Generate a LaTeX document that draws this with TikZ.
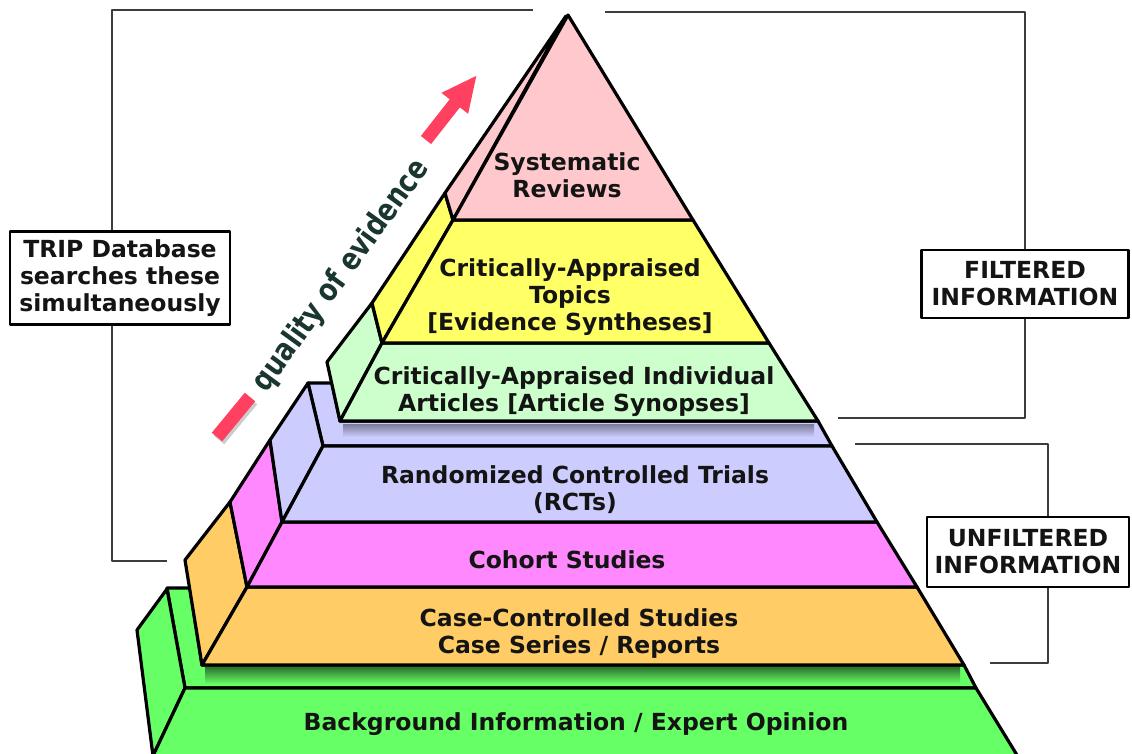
\documentclass[tikz,border=0pt]{standalone}
\usepackage{fontspec}
\setmainfont{DejaVu Sans}
\usetikzlibrary{arrows.meta, positioning}

\definecolor{pinkface}{RGB}{255,200,204}
\definecolor{yellowface}{RGB}{255,255,102}
\definecolor{mintface}{RGB}{204,255,204}
\definecolor{lilacface}{RGB}{204,204,255}
\definecolor{magentaface}{RGB}{255,136,255}
\definecolor{orangeface}{RGB}{255,204,102}
\definecolor{greenface}{RGB}{102,255,102}
\definecolor{arrowred}{RGB}{255,64,96}
\definecolor{evidgreen}{RGB}{25,55,48}
\definecolor{linegrey}{RGB}{60,60,60}
\definecolor{inkgrey}{RGB}{20,20,20}

\begin{document}
\begin{tikzpicture}[x = 1pt, y = -1pt, % pixel grid, y runs down
                line join = round,
                face/.style = {draw = black, line width = 3.2pt, fill = #1} % one face of a layer
            ]

            \tikzstyle{lbl}=[font = \fontsize{23.5}{27}\selectfont\bfseries,
            text = inkgrey, align = center, inner sep = 0pt]
            \tikzstyle{infobox}=[lbl, draw = black, line width = 2.6pt, fill = white]
            \tikzstyle{bracket}=[draw = linegrey, line width = 1.6pt]

            \useasboundingbox (0,0) rectangle (1132,753);
            \clip (0,0) rectangle (1132,753);

            % background layer
            \path[face=greenface] (167,588) -- (190,588) -- (202,665) -- (964,665)
                -- (976,688) -- (185,688) -- cycle;
            \shade[top color=greenface!45!black, bottom color=greenface]
                (205,667) rectangle (960,684);
            \path[face=greenface] (137,630) -- (167,589) -- (185,688) -- (153,756) -- cycle;
            \path[face=greenface] (185,688) -- (976,688) -- (1020,760) -- (151,760) -- cycle;

            % unfiltered stack
            \path[face=orangeface] (185,560) -- (230,502) -- (247,587) -- (202,665) -- cycle;
            \path[face=orangeface] (202,665) -- (247,587) -- (917,587) -- (964,665) -- cycle;
            \path[face=magentaface] (230,502) -- (270,440) -- (282,522) -- (247,587) -- cycle;
            \path[face=magentaface] (247,587) -- (282,522) -- (877,522) -- (917,587) -- cycle;
            \path[face=lilacface] (308,383) -- (332,383) -- (340,421) -- (818,421)
                -- (832,446) -- (323,446) -- cycle;
            \shade[top color=lilacface!60!black, bottom color=lilacface]
                (343,424) rectangle (814,437);
            \path[face=lilacface] (270,440) -- (308,383) -- (323,446) -- (282,522) -- cycle;
            \path[face=lilacface] (282,522) -- (323,446) -- (832,446) -- (877,522) -- cycle;

            % filtered stack
            \path[face=mintface] (327,362) -- (372,303) -- (382,343) -- (340,421) -- cycle;
            \path[face=mintface] (340,421) -- (382,343) -- (769,343) -- (818,421) -- cycle;
            \path[face=yellowface] (372,303) -- (445,193) -- (453,220) -- (382,343) -- cycle;
            \path[face=yellowface] (382,343) -- (453,220) -- (693,220) -- (769,343) -- cycle;
            \path[face=pinkface] (445,193) -- (566,16) -- (453,220) -- cycle;
            \path[face=pinkface] (453,220) -- (568,15) -- (693,220) -- cycle;

            \node[lbl] (sr) at (567,175) {Systematic\\Reviews};
            \node[lbl] (cat) at (570,297) {Critically-Appraised\\Topics\\{[}Evidence Syntheses{]}};
            \node[lbl] (caia) at (574,392) {Critically-Appraised Individual\\Articles {[}Article Synopses{]}};
            \node[lbl] (rct) at (575,490) {Randomized Controlled Trials\\(RCTs)};
            \node[lbl] (coh) at (567,560) {Cohort Studies};
            \node[lbl] (case) at (579,634) {Case-Controlled Studies\\Case Series / Reports};
            \node[lbl] (bg) at (576,724) {Background Information / Expert Opinion};

            % quality arrow
            \coordinate (bartail) at (217,437); \coordinate (barhead) at (250,397);
            \coordinate (arrtail) at (426,140); \coordinate (arrtip) at (477,75);
            \draw[line width=13.5pt, black, opacity=.2, transform canvas={shift={(2pt,-3pt)}}]
                (bartail) -- (barhead);
            \draw[line width=13.5pt, arrowred] (bartail) -- (barhead);
            \draw[line width=13pt, arrowred, -{Triangle[length=36pt, width=31pt]}]
                (arrtail) -- (arrtip);
            \node[font=\fontsize{31}{31}\selectfont\bfseries, text=evidgreen, rotate=54, inner sep=0pt]
                (qoe) at (341,276) {\scalebox{0.83}[1]{quality of evidence}};

            % brackets and boxes
            \coordinate (tl) at (533,10); \coordinate (bl) at (167,561);
            \coordinate (tf) at (605,12); \coordinate (bf) at (838,418);
            \coordinate (tu) at (855,444); \coordinate (bu) at (990,663);

            \node[infobox, minimum width=220pt, minimum height=93pt] (trip) at (120,278)
                {TRIP Database\\searches these\\simultaneously};
            \node[infobox, minimum width=207pt, minimum height=68pt] (filt) at (1025,284)
                {FILTERED\\INFORMATION};
            \node[infobox, minimum width=202pt, minimum height=70pt] (unfilt) at (1028,552)
                {UNFILTERED\\INFORMATION};

            \path[bracket] (tl) -| ([xshift=-8pt]trip.north);
            \path[bracket] (bl) -| ([xshift=-8pt]trip.south);
            \path[bracket] (tf) -| (filt.north);
            \path[bracket] (bf) -| (filt.south);
            \path[bracket] (tu) -| ([xshift=20pt]unfilt.north);
            \path[bracket] (bu) -| ([xshift=20pt]unfilt.south);
            \end{tikzpicture}
\end{document}
